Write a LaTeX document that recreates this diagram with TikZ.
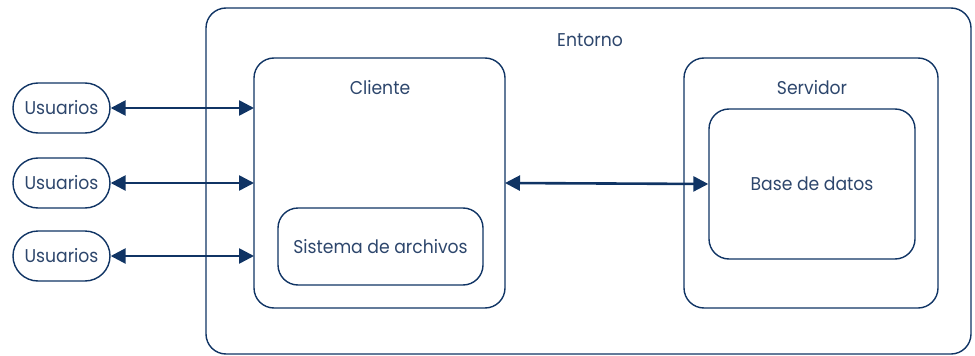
\documentclass[tikz,border=0pt]{standalone}
\usepackage{fontspec}
\setmainfont{Poppins}[FakeStretch=0.93]
\usetikzlibrary{arrows.meta,shapes.misc}
\definecolor{navy}{RGB}{16,52,100}
\definecolor{txt}{RGB}{45,70,108}
\begin{document}
\begin{tikzpicture}[x=1pt,y=-1pt,
  box/.style={draw=navy,line width=1.4pt,rounded corners=20pt},
  lbl/.style={text=txt,font=\fontsize{18.5}{20}\selectfont,inner sep=0pt},
  user/.style={draw=navy,line width=1.4pt,rounded rectangle,minimum width=97pt,minimum height=50pt,inner sep=0pt,text=txt,font=\fontsize{18.5}{20}\selectfont},
  link/.style={draw=navy,line width=2.6pt,{Triangle[length=15pt,width=15pt]}-{Triangle[length=15pt,width=15pt]}}]
\useasboundingbox (0,0) rectangle (975,356);
\draw[box] (206,8) rectangle (971,354);
\node[lbl] (ent) at (590,40) {Entorno};
\draw[box] (254,58) rectangle (505,308);
\coordinate (cliL1) at (254,108);
\coordinate (cliL2) at (254,183);
\coordinate (cliL3) at (254,256);
\coordinate (cliR) at (505,183);
\node[lbl] (cli) at (380,88) {Cliente};
\node[box,minimum width=205pt,minimum height=77pt,lbl,inner sep=0pt] (sis) at (380.5,246.5) {Sistema de archivos};
\draw[box] (684,58) rectangle (938,308);
\node[lbl] (srv) at (812,88) {Servidor};
\node[box,minimum width=206pt,minimum height=150pt,lbl] (bd) at (812,184) {Base de datos};
\node[user] (u1) at (61.5,108) {Usuarios};
\node[user] (u2) at (61.5,183) {Usuarios};
\node[user] (u3) at (61.5,256) {Usuarios};
\draw[link] (u1.east) -- (cliL1);
\draw[link] (u2.east) -- (cliL2);
\draw[link] (u3.east) -- (cliL3);
\draw[link] (cliR) -- (bd.west);
\end{tikzpicture}
\end{document}
